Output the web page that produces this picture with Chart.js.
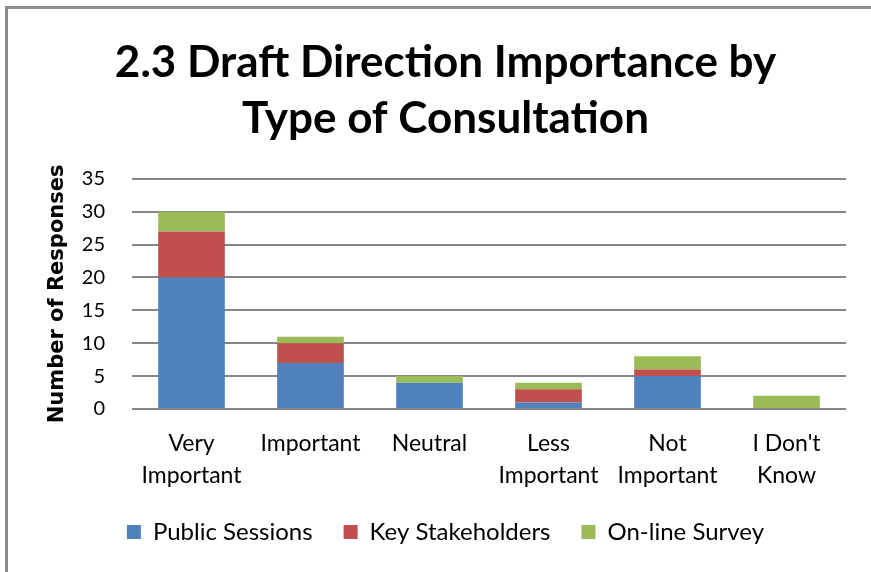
<!DOCTYPE html>
<html>
<head>
<meta charset="utf-8">
<title>Draft Direction Importance</title>
<script src="https://cdn.jsdelivr.net/npm/chart.js@4.4.0/dist/chart.umd.min.js"></script>
<style>
  html, body { margin: 0; padding: 0; background: #fff; overflow: hidden; }
  #frame { position: relative; width: 871px; height: 572px; overflow: hidden; }
  .edge { position: absolute; background: #8c8c8c; }
  #edge-left { left: 5px; top: 6px; width: 3px; height: 566px; }
  #edge-top { left: 5px; top: 6px; width: 866px; height: 3px; }
  #chart { position: absolute; left: 0; top: 0; }
</style>
</head>
<body>
<div id="frame">
  <div class="edge" id="edge-left"></div>
  <div class="edge" id="edge-top"></div>
  <canvas id="chart" width="871" height="572"></canvas>
</div>
<script>
// responses per importance level, split by consultation type
const categories = [['Very', 'Important'], 'Important', 'Neutral', ['Less', 'Important'], ['Not', 'Important'], ["I Don't", 'Know']];
const publicSessions = [20, 7, 4, 1, 5, 0];
const keyStakeholders = [7, 3, 0, 2, 1, 0];
const onlineSurvey = [3, 1, 1, 1, 2, 2];
const yMax = 35;
const yStep = 5;

const gridGrey = '#868686';
const textFont = 'Lato, "Open Sans", sans-serif';

const ctx = document.getElementById('chart').getContext('2d');

new Chart(ctx, {
    type: 'bar',
    data: {
        labels: categories,
        datasets: [
            { label: 'Public Sessions', data: publicSessions, backgroundColor: '#4f81bd' },
            { label: 'Key Stakeholders', data: keyStakeholders, backgroundColor: '#c0504d' },
            { label: 'On-line Survey', data: onlineSurvey, backgroundColor: '#9bbb59' }
        ]
    },
    options: {
        responsive: false,
        animation: false,
        categoryPercentage: 0.56,
        barPercentage: 1,
        layout: { padding: { left: 45, right: 25, top: 35, bottom: 18 } },
        plugins: {
            title: {
                display: true,
                text: ['2.3 Draft Direction Importance by', 'Type of Consultation'],
                color: '#000',
                font: { family: textFont, size: 44, weight: 'bold', lineHeight: 1.27 },
                padding: { top: 0, bottom: 32 }
            },
            legend: {
                position: 'bottom',
                labels: {
                    color: '#000',
                    boxWidth: 14,
                    boxHeight: 14,
                    padding: 31,
                    font: { family: textFont, size: 24 }
                }
            },
            tooltip: { enabled: false }
        },
        scales: {
            x: {
                stacked: true,
                grid: { display: false, drawTicks: false },
                border: { display: false },
                ticks: {
                    color: '#000',
                    padding: 19,
                    maxRotation: 0,
                    font: { family: textFont, size: 23, lineHeight: 1.39 }
                },
                // two label lines plus padding, nothing more
                afterFit: (scale) => { scale.height = 80; }
            },
            y: {
                stacked: true,
                min: 0,
                max: yMax,
                grid: { color: gridGrey, lineWidth: 2, drawTicks: false },
                border: { display: false },
                ticks: {
                    stepSize: yStep,
                    color: '#000',
                    padding: 27,
                    font: { family: textFont, size: 20 }
                },
                title: {
                    display: true,
                    text: 'Number of Responses',
                    color: '#000',
                    padding: { top: 0, bottom: 14 },
                    font: { family: '"DejaVu Sans", sans-serif', size: 21, weight: 'bold' }
                },
                // fixed band for the axis title and tick labels
                afterFit: (scale) => { scale.width = 87; }
            }
        }
    }
});
</script>
</body>
</html>
